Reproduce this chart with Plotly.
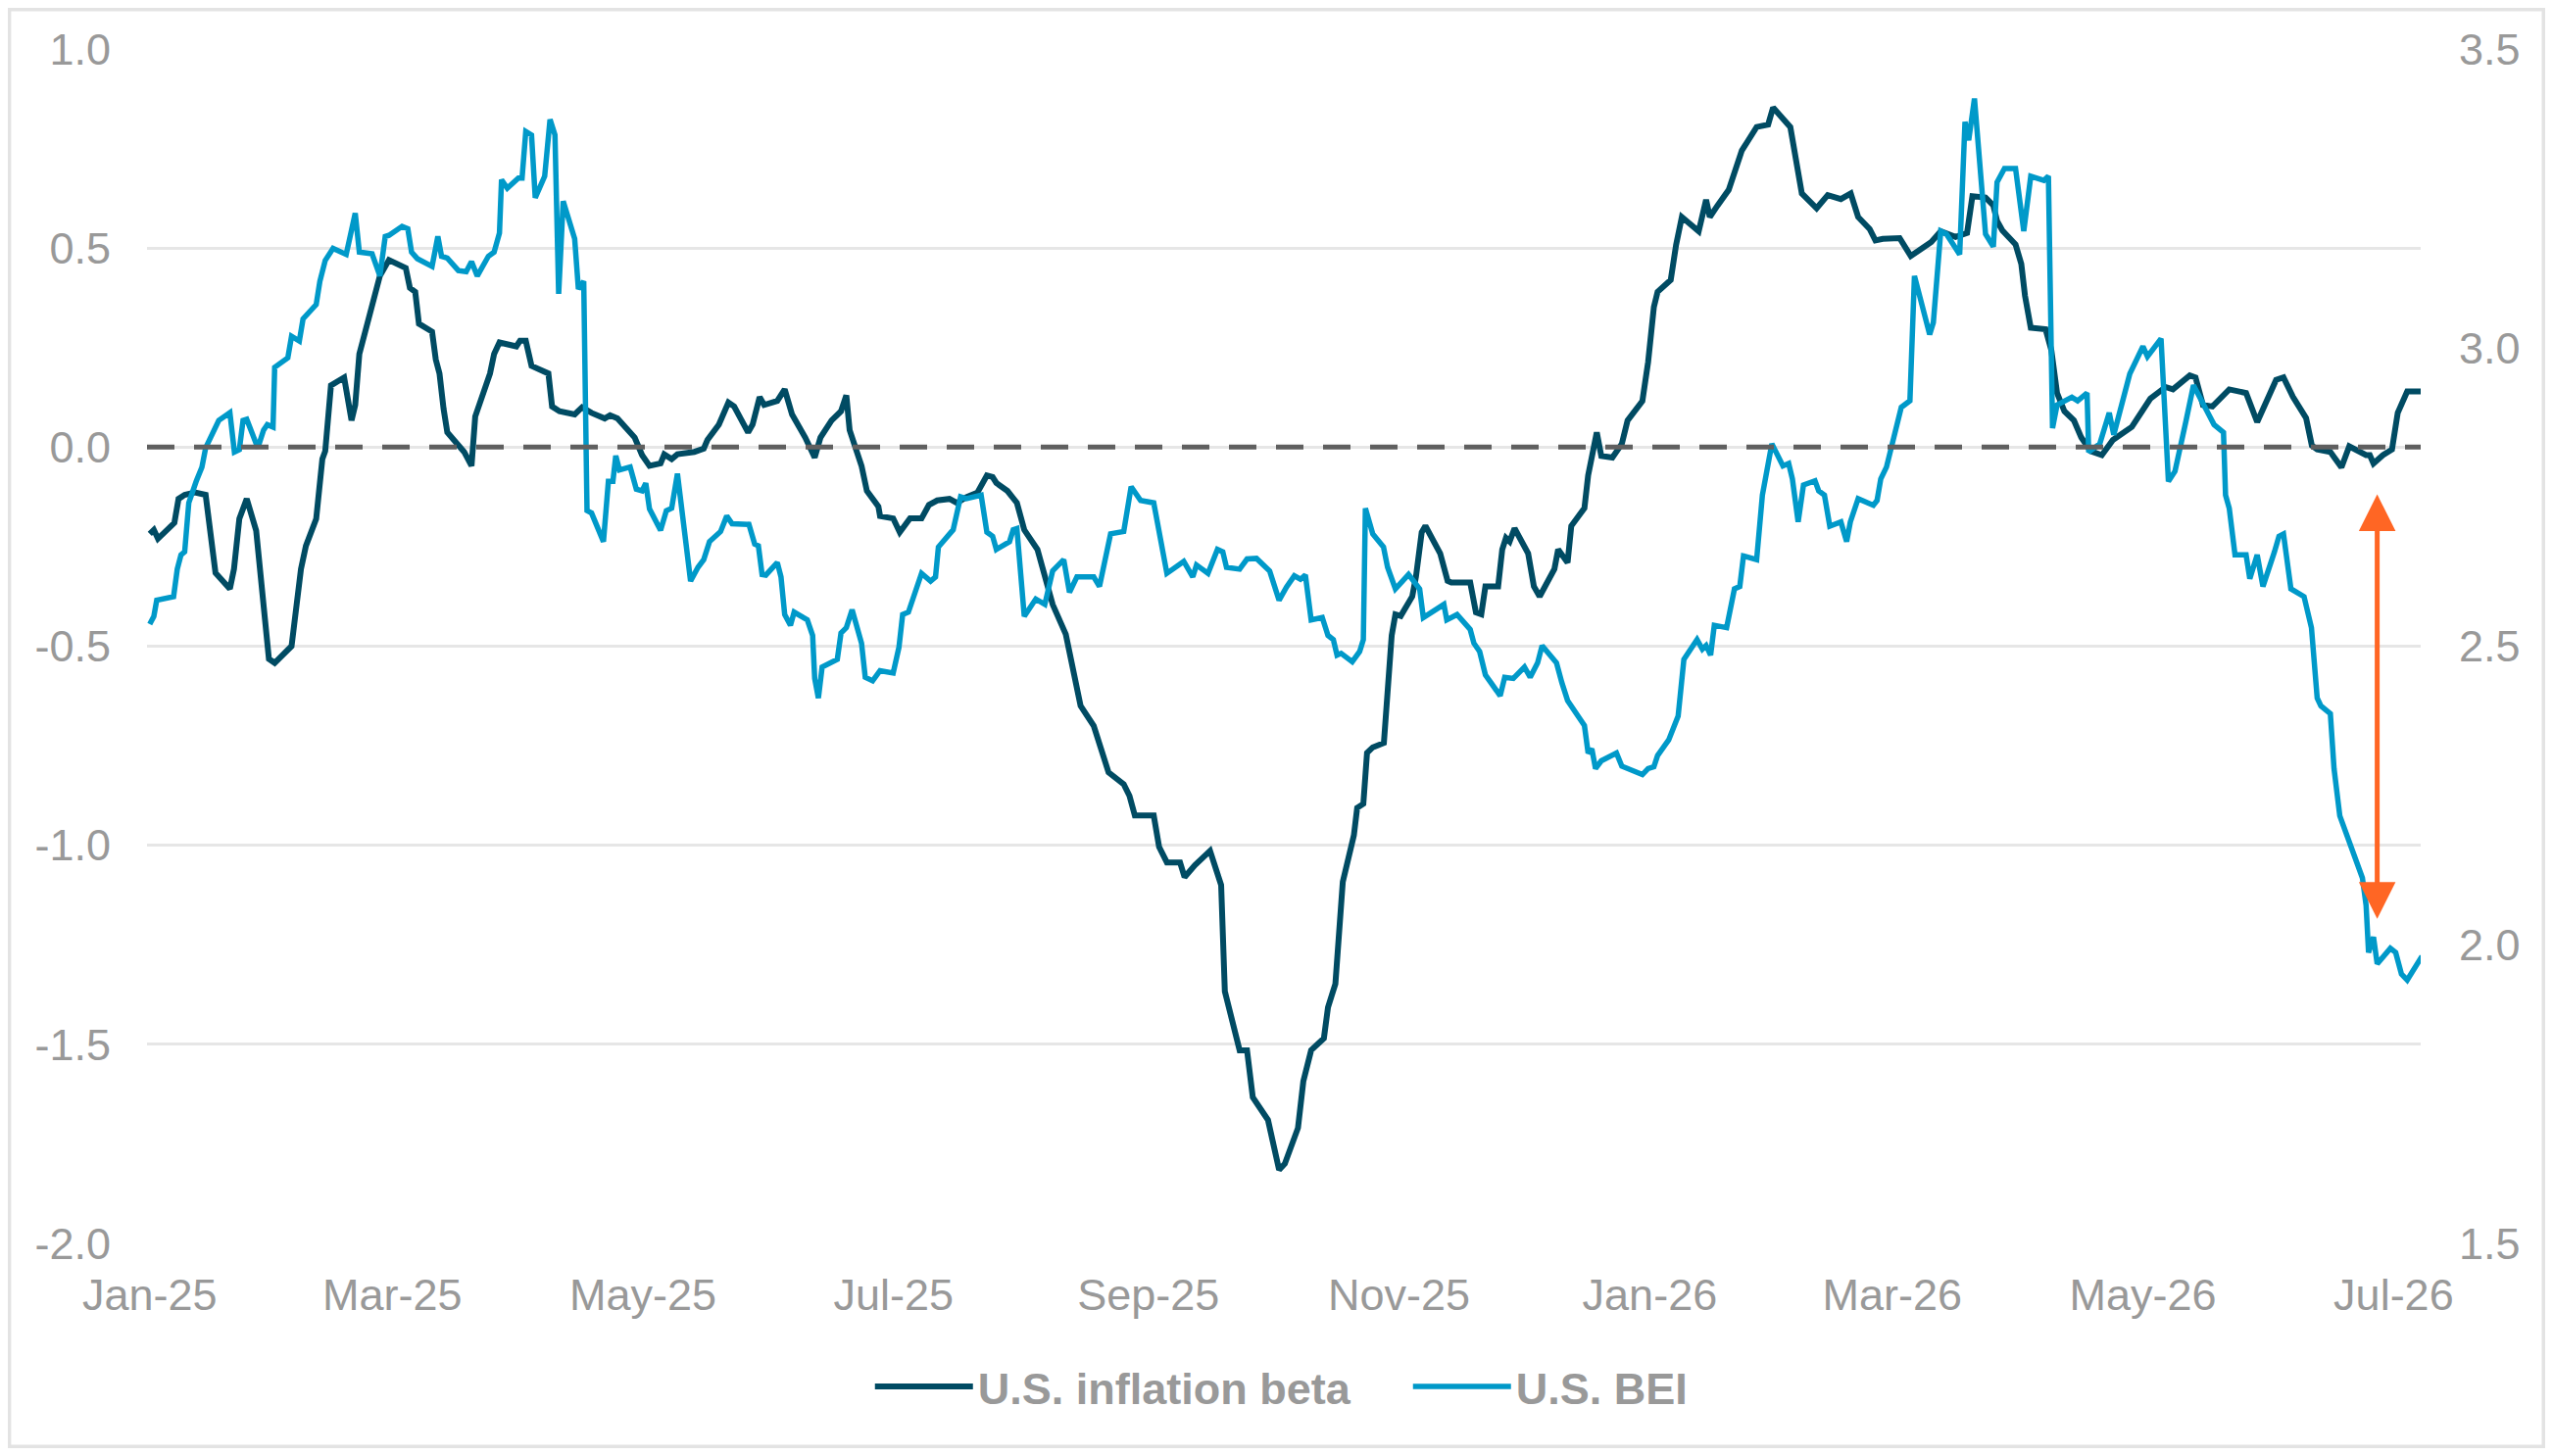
import pandas as pd
import plotly.graph_objects as go

# days since 2025-01-01 and values
beta_days = [0, 1, 2, 6, 7, 8.5, 11, 13.6, 16, 19.5, 20.5, 21.8, 23.6, 25.9, 29, 30.4, 34.5, 35.8, 36.8, 38,
             40.5, 42, 42.7, 44.1, 47.3, 49.1, 50, 51, 54.6, 56, 58.2, 62.3, 63.3, 64.6, 65.5, 68.7, 69.6, 70.5,
             71.5, 72.4, 76.5, 78.3, 79.2, 82.8, 83.8, 85.1, 89.2, 90.1, 91.5, 92.9, 97, 97.9, 99.7, 103.4,
             105.2, 107.5, 110.7, 112, 113.8, 118, 119.8, 121.6, 124.3, 125.2, 127, 128.4, 132.5, 134.8, 135.7,
             138.5, 140.8, 142.2, 145.6, 146.7, 148.4, 149.5, 152.7, 154.5, 156.3, 159.5, 161.8, 163.2, 165.9,
             168.2, 169.5, 170.3, 173.2, 174.5, 177.3, 177.7, 180.9, 182.5, 185, 187.8, 189.6, 191.6, 194.6,
             196.4, 198.7, 201.4, 203.7, 205.1, 206, 208.7, 211, 212.8, 216, 217.8, 219.7, 222.9, 223.8, 226.5,
             229.7, 233.3, 237, 238.4, 239.7, 244.3, 245.6, 247.5, 250.7, 251.8, 254.3, 258, 260.7, 261.6,
             265.2, 267, 268.4, 272.1, 274.8, 276.2, 279.4, 280.7, 282.6, 285.7, 286.7, 288.5, 290.3, 293,
             293.8, 295.3, 296.2, 297.6, 300.3, 301.2, 302.2, 303.1, 304.4, 307.2, 308.1, 309.5, 310.4, 314,
             315.8, 316.7, 321.3, 322.7, 324, 325, 328.1, 329.1, 330, 330.9, 332.1, 335.4, 336.8, 338.2, 341.8,
             342.7, 343.6, 345, 345.9, 349.1, 350, 352.1, 353.2, 355.9, 358.2, 359.6, 363.2, 364.6, 366, 366.9,
             370.1, 371.4, 372.8, 376.9, 378.7, 379.6, 381.5, 384.2, 387.4, 391, 393.8, 395, 399.2, 402, 405.6,
             408.3, 411.5, 413.9, 415.7, 418.5, 419.9, 421.7, 425.8, 428.5, 433.5, 435.8, 439.4, 442.2, 443.5,
             446.7, 448.6, 449.5, 450.8, 454, 455.4, 456.3, 457.7, 461.3, 462.7, 464.1, 465.9, 468.2, 470,
             472.3, 475, 477.7, 482.3, 486.8, 490.5, 492.3, 496.4, 497.8, 499.6, 501.9, 506, 510.1, 512.8,
             514.6, 517.4, 519.2, 521.5, 524.7, 526.1, 527.4, 530.6, 533.3, 535.2, 539.3, 540.2, 541.1, 543.4,
             545.6, 547, 549.3, 552.9]
beta_vals = [-0.218, -0.208, -0.23, -0.19, -0.13, -0.12, -0.114, -0.12, -0.316, -0.356, -0.306, -0.18, -0.13,
             -0.21, -0.532, -0.542, -0.50, -0.395, -0.306, -0.248, -0.18, -0.03, -0.01, 0.155, 0.175, 0.067,
             0.106, 0.234, 0.371, 0.43, 0.47, 0.45, 0.40, 0.39, 0.31, 0.29, 0.22, 0.185, 0.096, 0.037, -0.012,
             -0.047, 0.077, 0.185, 0.234, 0.263, 0.253, 0.267, 0.267, 0.204, 0.185, 0.102, 0.09, 0.082, 0.10,
             0.086, 0.072, 0.08, 0.072, 0.024, -0.02, -0.047, -0.041, -0.018, -0.03, -0.018, -0.012, -0.004,
             0.018, 0.057, 0.112, 0.102, 0.037, 0.057, 0.126, 0.106, 0.116, 0.145, 0.082, 0.024, -0.026, 0.024,
             0.067, 0.09, 0.13, 0.043, -0.047, -0.11, -0.149, -0.173, -0.179, -0.214, -0.179, -0.179, -0.145,
             -0.134, -0.13, -0.14, -0.126, -0.114, -0.071, -0.075, -0.09, -0.11, -0.14, -0.208, -0.257, -0.326,
             -0.395, -0.47, -0.52, -0.65, -0.70, -0.817, -0.847, -0.876, -0.925, -0.925, -1.004, -1.043, -1.043,
             -1.08, -1.05, -1.014, -1.10, -1.367, -1.515, -1.515, -1.633, -1.69, -1.815, -1.80, -1.71, -1.593,
             -1.515, -1.485, -1.407, -1.348, -1.092, -0.975, -0.906, -0.896, -0.768, -0.754, -0.743, -0.60,
             -0.473, -0.42, -0.424, -0.375, -0.326, -0.214, -0.198, -0.267, -0.336, -0.34, -0.34, -0.415, -0.42,
             -0.35, -0.35, -0.257, -0.228, -0.237, -0.204, -0.267, -0.35, -0.375, -0.306, -0.257, -0.27, -0.29,
             -0.198, -0.153, -0.071, 0.037, -0.022, -0.026, 0.008, 0.067, 0.116, 0.214, 0.352, 0.39, 0.42, 0.508,
             0.578, 0.542, 0.621, 0.578, 0.607, 0.646, 0.745, 0.804, 0.81, 0.853, 0.804, 0.637, 0.60, 0.633,
             0.623, 0.637, 0.578, 0.548, 0.519, 0.523, 0.525, 0.48, 0.515, 0.542, 0.528, 0.538, 0.63, 0.627,
             0.607, 0.568, 0.544, 0.509, 0.46, 0.38, 0.30, 0.296, 0.244, 0.136, 0.09, 0.067, 0.024, -0.01, -0.02,
             0.018, 0.051, 0.122, 0.151, 0.145, 0.18, 0.175, 0.106, 0.102, 0.145, 0.136, 0.063, 0.106, 0.169,
             0.175, 0.126, 0.073, 0.004, -0.006, -0.012, -0.051, 0.002, -0.02, -0.02, -0.041, -0.02, -0.006,
             0.086, 0.14, 0.14]

bei_days = [0, 1, 1.7, 5.8, 6.7, 7.6, 8.5, 9.5, 11.3, 12.7, 13.6, 15.4, 16.8, 19.5, 20.6, 21.8, 22.7, 23.6, 26.3,
            27.7, 28.6, 30, 30.4, 33.6, 34.5, 36.4, 37.3, 40.5, 41.4, 42.7, 44.6, 47.8, 49.1, 50, 51, 54.1, 56,
            57.3, 58.2, 61.4, 62.8, 63.7, 65.1, 68.7, 70.1, 71, 72.4, 75.1, 77, 78.3, 79.7, 82.4, 83.8, 85.1,
            85.6, 87, 89.7, 90.6, 91.5, 92.9, 93.8, 96.1, 97.4, 98.6, 99.5, 100.6, 103.4, 104.3, 105.6, 106.4,
            107.5, 110.4, 111.6, 112.7, 113.4, 114.3, 116.9, 118.4, 119.8, 120.7, 121.6, 124.3, 125.7, 127,
            128.4, 129.8, 131.6, 133.4, 134.8, 136.2, 138.9, 140.4, 141.7, 145.8, 147.2, 148.1, 149, 149.9,
            152.7, 153.6, 154.5, 155.9, 156.8, 160, 161.3, 161.8, 162.7, 163.6, 167.3, 168.2, 169.5, 170.9,
            173.2, 174.1, 175.9, 177.7, 180.9, 182.3, 183.2, 184.6, 187.8, 190, 191.2, 191.9, 195.5, 197.3,
            198.7, 202.3, 203.7, 205.1, 206, 209.2, 210.1, 211, 212.8, 215.6, 217.8, 219.7, 222.4, 223.8, 225.6,
            229.7, 231.1, 233.8, 237, 238.8, 241.1, 244.3, 247.5, 251.6, 253.8, 254.7, 257.5, 259.8, 261.1, 262,
            265.2, 267, 269.3, 272.5, 274.8, 276.6, 278.5, 280, 281.2, 282.6, 285.3, 286.7, 288, 288.9, 289.9,
            292.6, 294.4, 295.3, 295.8, 297.6, 300.2, 301.2, 303.1, 306.3, 307.6, 309, 309.9, 314, 314.9, 315.6,
            318.1, 321.3, 322.2, 323.6, 325, 328.6, 329.7, 331.8, 334.5, 335.9, 337.7, 338.8, 342.3, 343.6, 345,
            349.1, 350, 350.9, 351.8, 353.2, 356.9, 358.2, 359.6, 363.2, 364.6, 366, 366.9, 369.6, 371.9, 373.3,
            376.5, 377.8, 378.7, 379.8, 380.7, 383.7, 385.6, 386.9, 387.8, 391, 392.4, 394.7, 397.4, 398.8,
            399.7, 401.1, 402.4, 405.2, 406.1, 407.5, 408.8, 411.5, 412.9, 413.8, 415.7, 419.4, 420.3, 421.2,
            422.6, 426.2, 428.3, 429.4, 433.1, 434, 435.8, 437.2, 440.4, 441.7, 442.6, 444, 446.7, 448.6, 449.5,
            451.3, 454, 456, 457.7, 460.9, 462, 463, 464.1, 467.7, 469.1, 471.4, 471.8, 474.5, 476.8, 477.9,
            481.8, 485, 486.1, 489.4, 491.2, 492.8, 495.5, 497.3, 500.1, 502.3, 504.6, 505.1, 506, 507.4, 510.1,
            511, 512.8, 514.2, 517, 518.1, 519.2, 521, 524.2, 526, 527.4, 528.3, 530.6, 531.5, 532.9, 534.3,
            538.4, 539.3, 539.9, 541.1, 542, 545.2, 546.5, 547.9, 549.3, 552.9]
bei_vals = [2.537, 2.55, 2.577, 2.583, 2.629, 2.653, 2.658, 2.74, 2.776, 2.80, 2.832, 2.858, 2.878, 2.891, 2.825,
            2.829, 2.878, 2.88, 2.832, 2.862, 2.871, 2.867, 2.967, 2.983, 3.019, 3.011, 3.048, 3.072, 3.111,
            3.146, 3.166, 3.156, 3.195, 3.225, 3.16, 3.157, 3.12, 3.186, 3.188, 3.203, 3.199, 3.16, 3.149,
            3.136, 3.186, 3.153, 3.15, 3.129, 3.127, 3.144, 3.12, 3.153, 3.16, 3.192, 3.281, 3.267, 3.284,
            3.284, 3.362, 3.356, 3.251, 3.287, 3.382, 3.356, 3.09, 3.245, 3.182, 3.098, 3.111, 2.727, 2.723,
            2.675, 2.776, 2.776, 2.819, 2.795, 2.80, 2.763, 2.76, 2.773, 2.73, 2.694, 2.727, 2.731, 2.789,
            2.714, 2.609, 2.632, 2.645, 2.675, 2.692, 2.718, 2.705, 2.704, 2.671, 2.668, 2.62, 2.619, 2.64,
            2.616, 2.553, 2.535, 2.557, 2.544, 2.518, 2.446, 2.413, 2.465, 2.478, 2.522, 2.531, 2.561, 2.505,
            2.448, 2.442, 2.459, 2.455, 2.498, 2.553, 2.557, 2.622, 2.609, 2.616, 2.666, 2.695, 2.75, 2.747,
            2.753, 2.691, 2.684, 2.662, 2.675, 2.695, 2.697, 2.55, 2.579, 2.57, 2.626, 2.645, 2.59, 2.616,
            2.616, 2.60, 2.688, 2.692, 2.767, 2.744, 2.74, 2.622, 2.642, 2.616, 2.636, 2.622, 2.662, 2.658,
            2.632, 2.629, 2.646, 2.647, 2.626, 2.577, 2.599, 2.618, 2.612, 2.619, 2.544, 2.548, 2.518, 2.511,
            2.485, 2.488, 2.474, 2.491, 2.511, 2.731, 2.688, 2.666, 2.632, 2.596, 2.62, 2.609, 2.596, 2.548,
            2.564, 2.57, 2.544, 2.553, 2.528, 2.505, 2.491, 2.452, 2.417, 2.448, 2.446, 2.465, 2.448, 2.472,
            2.501, 2.472, 2.439, 2.409, 2.367, 2.321, 2.328, 2.295, 2.308, 2.321, 2.299, 2.295, 2.285, 2.295,
            2.298, 2.317, 2.343, 2.383, 2.478, 2.511, 2.495, 2.501, 2.485, 2.535, 2.531, 2.596, 2.60, 2.651,
            2.645, 2.753, 2.839, 2.802, 2.806, 2.78, 2.708, 2.77, 2.777, 2.76, 2.753, 2.701, 2.708, 2.675,
            2.708, 2.747, 2.736, 2.744, 2.78, 2.80, 2.90, 2.911, 3.12, 3.022, 3.042, 3.195, 3.19, 3.156, 3.378,
            3.347, 3.417, 3.19, 3.169, 3.277, 3.30, 3.30, 3.195, 3.287, 3.28, 3.287, 2.865, 2.904, 2.917, 2.911,
            2.924, 2.825, 2.839, 2.891, 2.854, 2.956, 3.002, 2.985, 3.015, 2.776, 2.793, 2.878, 2.937, 2.90,
            2.871, 2.858, 2.753, 2.731, 2.653, 2.653, 2.613, 2.653, 2.60, 2.658, 2.684, 2.688, 2.596, 2.583,
            2.531, 2.413, 2.40, 2.387, 2.295, 2.216, 2.19, 2.112, 2.066, 1.987, 2.013, 1.968, 1.994, 1.987,
            1.951, 1.941, 1.981]

tick_dates = ['2025-01-01', '2025-03-01', '2025-05-01', '2025-07-01', '2025-09-01', '2025-11-01',
              '2026-01-01', '2026-03-01', '2026-05-01', '2026-07-01']
tick_labels = ['Jan-25', 'Mar-25', 'May-25', 'Jul-25', 'Sep-25', 'Nov-25',
               'Jan-26', 'Mar-26', 'May-26', 'Jul-26']
left_ticks = [-2.0, -1.5, -1.0, -0.5, 0.0, 0.5, 1.0]
left_labels = ['-2.0', '-1.5', '-1.0', '-0.5', '0.0', '0.5', '1.0']
right_ticks = [1.5, 2.0, 2.5, 3.0, 3.5]
right_labels = ['1.5', '2.0', '2.5', '3.0', '3.5']

# gap marker (double arrow) near the end
arrow_date = '2026-06-27'
arrow_top = -0.115
arrow_bottom = -1.185

BASE = pd.Timestamp('2025-01-01')
GREY = '#999999'
FONT = 'Liberation Sans, Arial, sans-serif'


def to_dates(days):
    return BASE + pd.to_timedelta(pd.Series(days), unit='D')


def main():
    fig = go.Figure()
    fig.add_trace(go.Scatter(x=to_dates(beta_days), y=beta_vals, name='U.S. inflation beta',
                             mode='lines', line=dict(color='#004B63', width=6)))
    fig.add_trace(go.Scatter(x=to_dates(bei_days), y=bei_vals, name='U.S. BEI', yaxis='y2',
                             mode='lines', line=dict(color='#0099C9', width=5.5)))

    # dashed zero line
    fig.add_shape(type='line', xref='paper', x0=0, x1=1, yref='y', y0=0, y1=0,
                  line=dict(color='#5F5F5F', width=5, dash='28px,20px'), layer='above')
    # outer frame (page body has an 8px margin, so the svg sits a little inside the window)
    fig.add_shape(type='rect', xref='paper', yref='paper', x0=-0.0606, x1=1.0541, y0=-0.1702, y1=1.0332,
                  line=dict(color='#E3E3E3', width=4))

    fig.add_annotation(x=arrow_date, y=arrow_bottom, ax=arrow_date, ay=arrow_top,
                       xref='x', yref='y', axref='x', ayref='y', text='', showarrow=True,
                       arrowhead=2, startarrowhead=2, arrowside='end+start', arrowsize=1.5,
                       startarrowsize=1.5, arrowwidth=5, arrowcolor='#FF6624')

    fig.update_layout(
        width=2589, height=1470,
        margin=dict(l=142, r=127, t=42, b=209),
        plot_bgcolor='white', paper_bgcolor='white',
        font=dict(family=FONT, size=45, color=GREY),
        showlegend=True,
        legend=dict(orientation='h', x=0.318, xanchor='left', y=-0.12, yanchor='middle',
                    font=dict(family=FONT, size=45, color=GREY, weight='bold'),
                    itemwidth=100, entrywidth=434, traceorder='normal'),
        xaxis=dict(type='date', range=['2024-12-31 08:00', '2026-07-07 14:00'],
                   tickvals=tick_dates, ticktext=tick_labels, showgrid=False, zeroline=False,
                   showline=False, ticks='', ticklabelstandoff=22,
                   tickfont=dict(family=FONT, size=45, color=GREY)),
        yaxis=dict(range=[-2, 1], tickvals=left_ticks, ticktext=left_labels, showgrid=True,
                   gridcolor='#E6E6E6', gridwidth=3, zeroline=False, showline=False, ticks='',
                   ticklabelstandoff=36, tickfont=dict(family=FONT, size=45, color=GREY)),
        yaxis2=dict(range=[1.5, 3.5], tickvals=right_ticks, ticktext=right_labels, overlaying='y',
                    side='right', showgrid=False, zeroline=False, showline=False, ticks='',
                    ticklabelstandoff=38, tickfont=dict(family=FONT, size=45, color=GREY)),
    )

    fig.write_html("out.html")


if __name__ == '__main__':
    main()
